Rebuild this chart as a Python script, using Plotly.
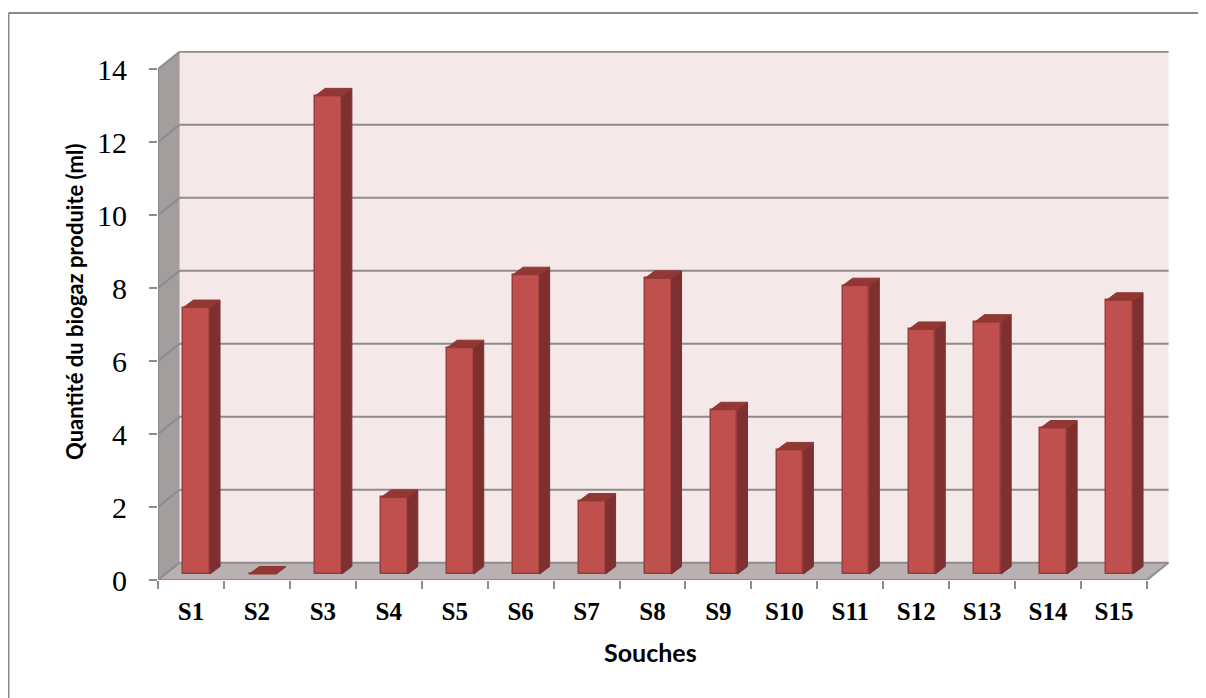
import plotly.graph_objects as go

# ---- data ----
categories = ["S1", "S2", "S3", "S4", "S5", "S6", "S7", "S8", "S9", "S10",
              "S11", "S12", "S13", "S14", "S15"]
values = [7.3, 0.0, 13.1, 2.1, 6.2, 8.2, 2.0, 8.1, 4.5, 3.4, 7.9, 6.7, 6.9, 4.0, 7.5]
y_ticks = [0, 2, 4, 6, 8, 10, 12, 14]
y_title = "Quantité du biogaz produite (ml)"
x_title = "Souches"

# ---- geometry (pixels -> data units) ----
OFF = 8                      # page body margin
W, H = 1206 - OFF, 698 - OFF
ML, MR, MT, MB = 158 - OFF, 37, 51 - OFF, 118
PW, PH = W - ML - MR, H - MT - MB
CAT_PX = 65.93      # px per category on the front axis
UNIT_PX = 36.5      # px per y unit
n = len(categories)
x_lo = -0.5
x_front_hi = n - 0.5
x_hi = x_lo + PW / CAT_PX
y_hi = PH / UNIT_PX
y_max = y_ticks[-1]

WDX, WDY = 21.6 / CAT_PX, 17.3 / UNIT_PX        # wall depth
FX, FY = 5.7 / CAT_PX, 6.0 / UNIT_PX            # bar front offset
BW = 26.7 / CAT_PX                               # bar width
BDX, BDY = 10.0 / CAT_PX, 7.5 / UNIT_PX          # bar depth

GRID = "#8C8C8C"
WALL = "#F4E8E8"
SIDEWALL = "#A39D9D"
FLOOR = "#B9B1B1"
FRONT = "#C0504D"
FRONT_EDGE = "#9A3C3A"
SIDE = "#7E3030"
TOP = "#913835"

def px_x(p):  # page px -> paper x
    return (p - OFF - ML) / PW

def px_y(p):  # page px -> paper y
    return (MT + PH - (p - OFF)) / PH

def poly(pts):
    return "M " + " L ".join(f"{x},{y}" for x, y in pts) + " Z"

shapes = []
# back wall
shapes.append(dict(type="path", xref="x", yref="y", layer="below",
                   path=poly([(x_lo + WDX, WDY), (x_front_hi + WDX, WDY),
                              (x_front_hi + WDX, y_max + WDY), (x_lo + WDX, y_max + WDY)]),
                   fillcolor=WALL, line=dict(width=0)))
# left wall
shapes.append(dict(type="path", xref="x", yref="y", layer="below",
                   path=poly([(x_lo, 0), (x_lo + WDX, WDY), (x_lo + WDX, y_max + WDY), (x_lo, y_max)]),
                   fillcolor=SIDEWALL, line=dict(width=0)))
# floor
shapes.append(dict(type="path", xref="x", yref="y", layer="below",
                   path=poly([(x_lo, 0), (x_front_hi, 0), (x_front_hi + WDX, WDY), (x_lo + WDX, WDY)]),
                   fillcolor=FLOOR, line=dict(width=0)))
# gridlines on back wall and left wall
for k in y_ticks:
    shapes.append(dict(type="line", xref="x", yref="y", layer="below",
                       x0=x_lo + WDX, y0=k + WDY, x1=x_front_hi + WDX, y1=k + WDY,
                       line=dict(color=GRID, width=2)))
    shapes.append(dict(type="line", xref="x", yref="y", layer="below",
                       x0=x_lo, y0=k, x1=x_lo + WDX, y1=k + WDY,
                       line=dict(color=GRID, width=2)))
# front edges
shapes.append(dict(type="line", xref="x", yref="y", layer="below",
                   x0=x_lo, y0=0, x1=x_lo, y1=y_max, line=dict(color=GRID, width=2)))
shapes.append(dict(type="line", xref="x", yref="y", layer="below",
                   x0=x_lo, y0=0, x1=x_front_hi, y1=0, line=dict(color=GRID, width=2)))
shapes.append(dict(type="line", xref="x", yref="y", layer="below",
                   x0=x_front_hi, y0=0, x1=x_front_hi + WDX, y1=WDY, line=dict(color=GRID, width=2)))
# chart-area border (top and left)
bx, by = px_x(8.5), px_y(13)
shapes.append(dict(type="line", xref="paper", yref="paper", x0=bx, y0=by, x1=px_x(1206), y1=by,
                   line=dict(color="#8A8A8A", width=2)))
shapes.append(dict(type="line", xref="paper", yref="paper", x0=bx, y0=by, x1=bx, y1=px_y(698),
                   line=dict(color="#8A8A8A", width=2)))

xpos = list(range(n))

# side and top faces of the columns
side_x, side_y, top_x, top_y = [], [], [], []
for i, v in zip(xpos, values):
    xl = i - BW / 2 + FX
    xr = i + BW / 2 + FX
    side_x += [xr, xr + BDX, xr + BDX, xr, xr, None]
    side_y += [FY, FY + BDY, v + FY + BDY, v + FY, FY, None]
    top_x += [xl, xr, xr + BDX, xl + BDX, xl, None]
    top_y += [v + FY, v + FY, v + FY + BDY, v + FY + BDY, v + FY, None]

fig = go.Figure()
fig.add_trace(go.Bar(x=xpos, y=values, base=FY, width=BW, offset=FX - BW / 2,
                     marker=dict(color=FRONT, line=dict(color=FRONT_EDGE, width=1.5)),
                     customdata=categories, hovertemplate="%{customdata}: %{y}<extra></extra>",
                     showlegend=False))
fig.add_trace(go.Scatter(x=side_x, y=side_y, mode="lines", fill="toself", fillcolor=SIDE,
                         line=dict(color=SIDE, width=1), hoverinfo="skip", showlegend=False))
fig.add_trace(go.Scatter(x=top_x, y=top_y, mode="lines", fill="toself", fillcolor=TOP,
                         line=dict(color=TOP, width=1), hoverinfo="skip", showlegend=False))

fig.update_layout(
    width=W, height=H,
    margin=dict(l=ML, r=MR, t=MT, b=MB),
    paper_bgcolor="white", plot_bgcolor="white",
    shapes=shapes,
    showlegend=False,
    bargap=0,
    xaxis=dict(range=[x_lo, x_hi], tickmode="array", tickvals=xpos, ticktext=categories,
               ticks="", showgrid=False, zeroline=False, showline=False,
               tickfont=dict(family="Liberation Serif", size=25, color="black", weight="bold"),
               ticklabelstandoff=14,
               minor=dict(tickmode="linear", tick0=-0.5, dtick=1, ticks="outside",
                          ticklen=8, tickwidth=2, tickcolor=GRID, showgrid=False)),
    yaxis=dict(range=[0, y_hi], tickmode="array", tickvals=y_ticks,
               ticks="outside", ticklen=8, tickwidth=2, tickcolor=GRID,
               showgrid=False, zeroline=False, showline=False,
               tickfont=dict(family="Liberation Serif", size=30, color="black"),
               ticklabelstandoff=16),
    annotations=[
        dict(text=f"<b>{y_title}</b>", xref="paper", yref="paper",
             x=px_x(74), y=px_y(302), textangle=-90, showarrow=False,
             xanchor="center", yanchor="middle",
             font=dict(family="Lato", size=22, color="black")),
        dict(text=f"<b>{x_title}</b>", xref="paper", yref="paper",
             x=px_x(650), y=px_y(652), showarrow=False,
             xanchor="center", yanchor="middle",
             font=dict(family="Lato", size=25, color="black")),
    ],
)

fig.write_html("out.html")
